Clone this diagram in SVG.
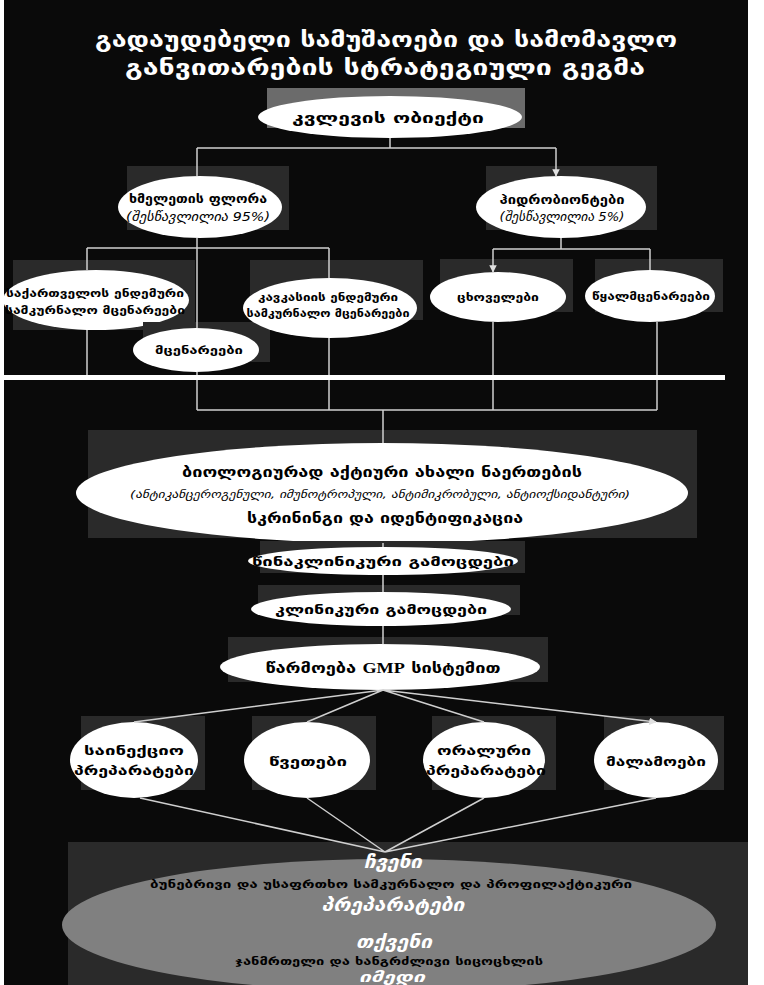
<svg xmlns="http://www.w3.org/2000/svg" width="764" height="985" viewBox="0 0 764 985">
<style>
.sh{fill:#2a2a2a}
.el{fill:#ffffff}
.t{font-family:"DejaVu Sans",sans-serif;font-weight:bold;fill:#000;text-anchor:middle;dominant-baseline:central}
.p{font-family:"DejaVu Sans",sans-serif;font-style:italic;font-weight:normal;fill:#000;text-anchor:middle;dominant-baseline:central}
.w{font-family:"DejaVu Sans",sans-serif;font-weight:bold;font-style:italic;fill:#fff;text-anchor:middle;dominant-baseline:central}
.ti{font-family:"DejaVu Sans",sans-serif;font-weight:bold;fill:#fff;text-anchor:middle;dominant-baseline:central;font-size:21px}
.c{stroke:#cfcfcf;stroke-width:1.5;fill:none}
</style>
<defs>
<marker id="ar" viewBox="0 0 10 10" refX="9" refY="5" markerWidth="5" markerHeight="5" orient="auto">
<path d="M0,0 L10,5 L0,10 z" fill="#e0e0e0"/>
</marker>
</defs>
<rect x="0" y="0" width="764" height="985" fill="#ffffff"/>
<rect x="4" y="0" width="744" height="985" fill="#0a0a0a"/>

<g id="title">
<text class="ti" x="386" y="40" textLength="582" lengthAdjust="spacingAndGlyphs">გადაუდებელი სამუშაოები და სამომავლო</text>
<text class="ti" x="385" y="68" textLength="520" lengthAdjust="spacingAndGlyphs">განვითარების სტრატეგიული გეგმა</text>
</g>

<g id="n-object">
<rect x="267" y="88" width="258" height="40" fill="#6b6b6b"/>
<ellipse class="el" cx="390" cy="117" rx="132" ry="21"/>
<text class="t" x="388" y="118" font-size="15" textLength="192" lengthAdjust="spacingAndGlyphs">კვლევის ობიექტი</text>
</g>

<g id="n-flora">
<rect class="sh" x="127" y="166" width="162" height="64"/>
<ellipse class="el" cx="200" cy="207" rx="82" ry="31"/>
<text class="t" x="198" y="199" font-size="12" textLength="138" lengthAdjust="spacingAndGlyphs">ხმელეთის ფლორა</text>
<text class="p" x="198" y="217" font-size="12" textLength="144" lengthAdjust="spacingAndGlyphs">(შესწავლილია 95%)</text>
</g>

<g id="n-hydro">
<rect class="sh" x="486" y="166" width="171" height="64"/>
<ellipse class="el" cx="561" cy="207" rx="85" ry="31"/>
<text class="t" x="562" y="200" font-size="12" textLength="125" lengthAdjust="spacingAndGlyphs">ჰიდრობიონტები</text>
<text class="p" x="562" y="217" font-size="12" textLength="125" lengthAdjust="spacingAndGlyphs">(შესწავლილია 5%)</text>
</g>

<g id="n-georgia">
<rect class="sh" x="13" y="260" width="182" height="70"/>
<ellipse class="el" cx="96" cy="300" rx="93" ry="30"/>
<text class="t" x="95" y="293" font-size="11" textLength="178" lengthAdjust="spacingAndGlyphs">საქართველოს ენდემური</text>
<text class="t" x="95" y="310" font-size="11" textLength="180" lengthAdjust="spacingAndGlyphs">სამკურნალო მცენარეები</text>
</g>

<g id="n-plants">
<rect class="sh" x="143" y="322" width="127" height="40"/>
<ellipse class="el" cx="196" cy="350" rx="63" ry="22"/>
<text class="t" x="199" y="350" font-size="11" textLength="88" lengthAdjust="spacingAndGlyphs">მცენარეები</text>
</g>

<g id="n-caucasus">
<rect class="sh" x="250" y="260" width="173" height="60"/>
<ellipse class="el" cx="330" cy="308" rx="87" ry="30"/>
<text class="t" x="328" y="297" font-size="11" textLength="140" lengthAdjust="spacingAndGlyphs">კავკასიის ენდემური</text>
<text class="t" x="328" y="313" font-size="11" textLength="163" lengthAdjust="spacingAndGlyphs">სამკურნალო მცენარეები</text>
</g>

<g id="n-animals">
<rect class="sh" x="440" y="259" width="133" height="53"/>
<ellipse class="el" cx="498" cy="297" rx="68" ry="25"/>
<text class="t" x="498" y="297" font-size="11" textLength="82" lengthAdjust="spacingAndGlyphs">ცხოველები</text>
</g>

<g id="n-algae">
<rect class="sh" x="595" y="259" width="128" height="53"/>
<ellipse class="el" cx="650" cy="296" rx="65" ry="26"/>
<text class="t" x="651" y="296" font-size="11" textLength="118" lengthAdjust="spacingAndGlyphs">წყალმცენარეები</text>
</g>

<g id="n-screening">
<rect class="sh" x="88" y="430" width="609" height="108"/>
<ellipse class="el" cx="382" cy="493" rx="306" ry="50"/>
<text class="t" x="382" y="472" font-size="14" textLength="400" lengthAdjust="spacingAndGlyphs">ბიოლოგიურად აქტიური ახალი ნაერთების</text>
<text class="p" x="380" y="494" font-size="11" textLength="500" lengthAdjust="spacingAndGlyphs">(ანტიკანცეროგენული, იმუნოტროპული, ანტიმიკრობული, ანტიოქსიდანტური)</text>
<text class="t" x="385" y="518" font-size="14" textLength="276" lengthAdjust="spacingAndGlyphs">სკრინინგი და იდენტიფიკაცია</text>
</g>

<g id="n-preclinical">
<rect class="sh" x="260" y="541" width="265" height="32"/>
<ellipse class="el" cx="383" cy="561" rx="135" ry="14"/>
<text class="t" x="383" y="561" font-size="13" textLength="262" lengthAdjust="spacingAndGlyphs">წინაკლინიკური გამოცდები</text>
</g>

<g id="n-clinical">
<rect class="sh" x="258" y="585" width="262" height="30"/>
<ellipse class="el" cx="381" cy="609" rx="130" ry="17"/>
<text class="t" x="381" y="609" font-size="13" textLength="212" lengthAdjust="spacingAndGlyphs">კლინიკური გამოცდები</text>
</g>

<g id="n-gmp">
<rect class="sh" x="228" y="637" width="320" height="45"/>
<ellipse class="el" cx="380" cy="667" rx="160" ry="23"/>
<text class="t" x="383" y="668" font-size="15" textLength="235" lengthAdjust="spacingAndGlyphs">წარმოება <tspan font-family="Liberation Serif, serif">GMP</tspan> სისტემით</text>
</g>

<g id="n-injection">
<rect class="sh" x="81" y="716" width="124" height="74"/>
<ellipse class="el" cx="134" cy="760" rx="64" ry="38"/>
<text class="t" x="134" y="750" font-size="13" textLength="100" lengthAdjust="spacingAndGlyphs">საინექციო</text>
<text class="t" x="134" y="770" font-size="13" textLength="120" lengthAdjust="spacingAndGlyphs">პრეპარატები</text>
</g>

<g id="n-drops">
<rect class="sh" x="252" y="716" width="124" height="74"/>
<ellipse class="el" cx="307" cy="760" rx="63" ry="38"/>
<text class="t" x="308" y="761" font-size="13" textLength="78" lengthAdjust="spacingAndGlyphs">წვეთები</text>
</g>

<g id="n-oral">
<rect class="sh" x="432" y="716" width="124" height="74"/>
<ellipse class="el" cx="484" cy="760" rx="61" ry="38"/>
<text class="t" x="484" y="750" font-size="13" textLength="94" lengthAdjust="spacingAndGlyphs">ორალური</text>
<text class="t" x="486" y="770" font-size="13" textLength="120" lengthAdjust="spacingAndGlyphs">პრეპარატები</text>
</g>

<g id="n-ointments">
<rect class="sh" x="604" y="716" width="120" height="74"/>
<ellipse class="el" cx="656" cy="760" rx="62" ry="38"/>
<text class="t" x="656" y="761" font-size="13" textLength="100" lengthAdjust="spacingAndGlyphs">მალამოები</text>
</g>

<g id="n-ours">
<rect class="sh" x="68" y="842" width="680" height="143"/>
<ellipse cx="389" cy="925" rx="327" ry="66" fill="#808080"/>
<text class="w" x="393" y="862" font-size="17" textLength="58" lengthAdjust="spacingAndGlyphs">ჩვენი</text>
<text class="t" x="391" y="884" font-size="11" textLength="482" lengthAdjust="spacingAndGlyphs">ბუნებრივი და უსაფრთხო სამკურნალო და პროფილაქტიკური</text>
<text class="w" x="393" y="905" font-size="17" textLength="143" lengthAdjust="spacingAndGlyphs">პრეპარატები</text>
<text class="w" x="394" y="942" font-size="17" textLength="76" lengthAdjust="spacingAndGlyphs">თქვენი</text>
<text class="t" x="389" y="961" font-size="11" textLength="308" lengthAdjust="spacingAndGlyphs">ჯანმრთელი და ხანგრძლივი სიცოცხლის</text>
<text class="w" x="392" y="977" font-size="15" textLength="66" lengthAdjust="spacingAndGlyphs">იმედი</text>
</g>

<g id="connectors">
<path class="c" d="M390,138 V148 M197,148 H556 M197,148 V176"/>
<path class="c" d="M556,148 V176" marker-end="url(#ar)"/>
<path class="c" d="M197,238 V248 M87,248 H329 M87,248 V270 M197,248 V328 M329,248 V278"/>
<path class="c" d="M561,238 V249 M493,249 H650 M650,249 V270"/>
<path class="c" d="M493,249 V272" marker-end="url(#ar)"/>
<path class="c" d="M87,330 V376 M197,372 V376 M329,338 V376 M493,322 V376 M657,322 V376"/>
<rect x="4" y="375" width="721" height="5" fill="#ffffff"/>
<path class="c" d="M197,380 V410 M329,380 V410 M493,380 V410 M657,380 V410 M197,410 H657 M383,410 V443"/>
<path class="c" d="M383,543 V547 M383,575 V592 M383,626 V644"/>
<path class="c" d="M383,690 L134,722 M383,690 L307,722 M383,690 L484,722 M383,690 L656,722" marker-end="url(#ar)"/>
<path class="c" d="M140,798 L385,852 M307,798 L385,852 M484,798 L385,852 M656,798 L385,852"/>
</g>
</svg>
